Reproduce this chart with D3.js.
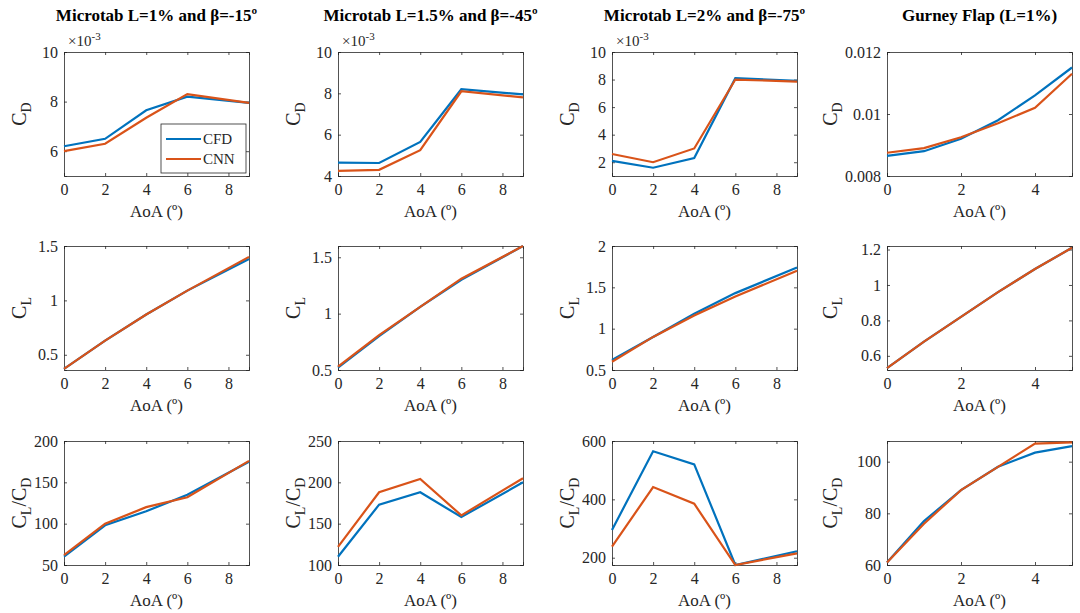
<!DOCTYPE html>
<html><head><meta charset="utf-8">
<script src="https://cdn.jsdelivr.net/npm/d3@7"></script>
<style>body{margin:0;background:#fff}svg text{font-family:"Liberation Serif",serif !important;fill:#262626}</style>
</head><body><div id="viz"></div>
<script>
// data
const titles = ["Microtab L=1% and \u03B2=-15\u00BA", "Microtab L=1.5% and \u03B2=-45\u00BA", "Microtab L=2% and \u03B2=-75\u00BA", "Gurney Flap (L=1%)"];
const aoaMicro = [0, 2, 4, 6, 9];
const aoaGurney = [0, 1, 2, 3, 4, 5];

const cdCFD = [[6.2,6.5,7.65,8.2,7.95],[4.65,4.63,5.65,8.2,7.95],[2.1,1.6,2.3,8.1,7.9],[0.00865,0.0088,0.0092,0.0098,0.0106,0.0115]];
const cdCNN = [[6.0,6.3,7.35,8.3,7.95],[4.25,4.3,5.25,8.1,7.8],[2.6,2.0,3.0,8.0,7.85],[0.00875,0.0089,0.00925,0.0097,0.0102,0.0113]];
const clCFD = [[0.37,0.63,0.87,1.09,1.38],[0.52,0.8,1.06,1.3,1.6],[0.62,0.9,1.18,1.43,1.74],[0.53,0.68,0.82,0.96,1.09,1.21]];
const clCNN = [[0.37,0.63,0.87,1.09,1.40],[0.53,0.81,1.06,1.31,1.6],[0.6,0.9,1.16,1.39,1.7],[0.53,0.68,0.82,0.96,1.09,1.21]];
const ldCFD = [[60,98,115,135,175],[110,173,188,158,200],[295,565,520,175,222],[61,77,89,98,103.5,106]];
const ldCNN = [[62,100,120,132,176],[122,188,204,160,205],[238,442,385,175,215],[61,76,89,98,107,107.5]];

const cdDomain = [[5,10],[4,10],[1,10],[0.008,0.012]];
const cdTicks = [[6,8,10],[4,6,8,10],[2,4,6,8,10],[0.008,0.01,0.012]];
const clDomain = [[0.36,1.5],[0.5,1.6],[0.5,2],[0.52,1.22]];
const clTicks = [[0.5,1,1.5],[0.5,1,1.5],[0.5,1,1.5,2],[0.6,0.8,1,1.2]];
const ldDomain = [[50,200],[100,250],[175,600],[60,108]];
const ldTicks = [[50,100,150,200],[100,150,200,250],[200,400,600],[60,80,100]];
const xTicksMicro = [0,2,4,6,8];
const xTicksGurney = [0,2,4];

const blue = "#0072BD", orange = "#D95319";

const svg = d3.select('#viz').append('svg').attr('width',1080).attr('height',613);

const colLeft = [64, 338, 612, 887];
const pw = 185;
const rowTop = [52, 246, 441];
const ph = 124;

const rows = [
  {cfd: cdCFD, cnn: cdCNN, dom: cdDomain, ticks: cdTicks, lab: ["C","D"]},
  {cfd: clCFD, cnn: clCNN, dom: clDomain, ticks: clTicks, lab: ["C","L"]},
  {cfd: ldCFD, cnn: ldCNN, dom: ldDomain, ticks: ldTicks, lab: ["C","L","/C","D"]}
];

titles.forEach((t, c) => {
  svg.append('text').attr('x', colLeft[c] + pw/2).attr('y', 21)
    .attr('text-anchor','middle').attr('font-size',17).attr('font-weight','bold')
    .style('fill','#000').text(t);
});

rows.forEach((r, ri) => {
  titles.forEach((t, c) => {
    const xs = c == 3 ? aoaGurney : aoaMicro;
    const x = d3.scaleLinear().domain(c == 3 ? [0,5] : [0,9]).range([0, pw]);
    const y = d3.scaleLinear().domain(r.dom[c]).range([ph, 0]);
    const g = svg.append('g').attr('transform', `translate(${colLeft[c]},${rowTop[ri]})`);

    const xt = c == 3 ? xTicksGurney : xTicksMicro;
    const fmtY = (c == 3 && ri == 0) ? d3.format('.3~f') : (ri == 0 ? d3.format('d') : d3.format('~g'));

    // axes with inward ticks
    g.append('g').attr('transform',`translate(0,${ph})`)
      .call(d3.axisBottom(x).tickValues(xt).tickFormat(d3.format('d')).tickSize(-3).tickPadding(8));
    g.append('g').call(d3.axisLeft(y).tickValues(r.ticks[c]).tickFormat(fmtY).tickSize(-3).tickPadding(6));
    g.append('g').call(d3.axisTop(x).tickValues(xt).tickSize(-3).tickFormat(''));
    g.append('g').attr('transform',`translate(${pw},0)`)
      .call(d3.axisRight(y).tickValues(r.ticks[c]).tickSize(-3).tickFormat(''));
    g.selectAll('g').attr('font-family', null).attr('font-size', null);
    g.selectAll('.tick text').attr('font-size', 16).style('font-family', '"Liberation Serif", serif');
    g.selectAll('.domain, .tick line').attr('stroke','#262626').attr('stroke-width',0.8);

    const line = d3.line().x((d,i) => x(xs[i])).y(d => y(d));
    g.append('path').datum(r.cfd[c]).attr('d', line).attr('fill','none').attr('stroke',blue).attr('stroke-width',2.2);
    g.append('path').datum(r.cnn[c]).attr('d', line).attr('fill','none').attr('stroke',orange).attr('stroke-width',2.2);

    // x label
    g.append('text').attr('x', pw/2).attr('y', ph + 41).attr('text-anchor','middle')
      .attr('font-size',17).text('AoA (\u00BA)');

    // y label
    const lx = c == 3 ? -50 : -38;
    const yl = g.append('text').attr('transform', `translate(${lx},${ph/2}) rotate(-90)`)
      .attr('text-anchor','middle').attr('font-size',20);
    r.lab.forEach((s, k) => {
      yl.append('tspan').attr('font-size', k % 2 ? 14 : 20).attr('dy', k % 2 ? 5 : (k ? -5 : 0)).text(s);
    });

    if (ri == 0 && c < 3) {
      const e = g.append('text').attr('x', 4).attr('y', -6).attr('font-size',15);
      e.append('tspan').text('\u00D710');
      e.append('tspan').attr('font-size',11).attr('dy',-6).text('-3');
    }

    if (ri == 0 && c == 0) {
      const lg = g.append('g').attr('transform', `translate(${pw - 88},${ph - 52})`);
      lg.append('rect').attr('width',85).attr('height',49).attr('fill','#fff').attr('stroke','#262626').attr('stroke-width',0.8);
      [["CFD",blue],["CNN",orange]].forEach((s, k) => {
        lg.append('line').attr('x1',5).attr('x2',40).attr('y1',15+k*20).attr('y2',15+k*20).attr('stroke',s[1]).attr('stroke-width',2.2);
        lg.append('text').attr('x',42).attr('y',20+k*20).attr('font-size',15).text(s[0]);
      });
    }
  });
});
</script></body></html>
